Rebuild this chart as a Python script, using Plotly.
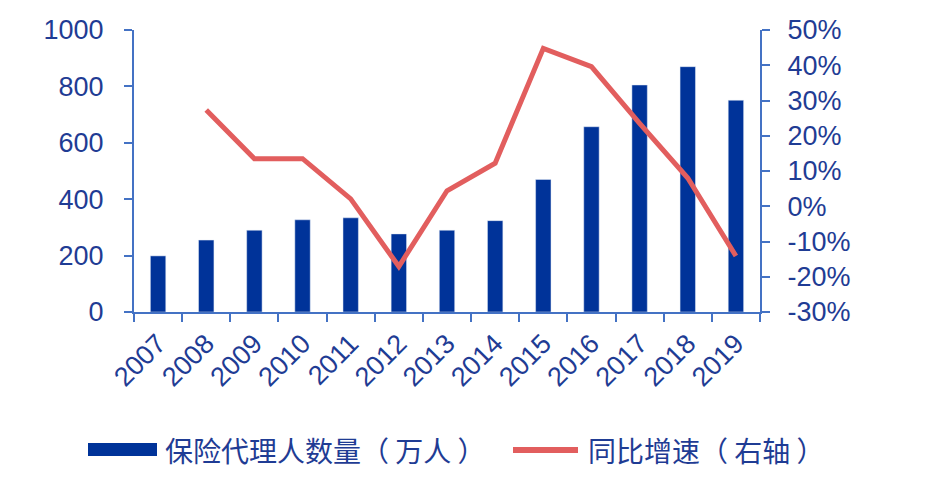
import plotly.graph_objects as go

years = ["2007", "2008", "2009", "2010", "2011", "2012", "2013",
         "2014", "2015", "2016", "2017", "2018", "2019"]
agents = [199, 255, 290, 327, 334, 277, 290, 324, 470, 657, 805, 870, 751]
growth_years = years[1:]
growth = [0.273, 0.135, 0.135, 0.021, -0.171, 0.044, 0.122,
          0.448, 0.396, 0.235, 0.08, -0.141]

pct_ticks = [-0.3, -0.2, -0.1, 0.0, 0.1, 0.2, 0.3, 0.4, 0.5]
pct_labels = ["-30%", "-20%", "-10%", "0%", "10%", "20%", "30%", "40%", "50%"]

bar_name = "保险代理人数量（ 万人 ）"
line_name = "同比增速（ 右轴 ）"

BLUE = "#003399"
RED = "#E25E5E"
AXIS = "#4472C4"
TXT = "#1F3C94"
FONT = "Liberation Sans, Arial, Noto Sans CJK SC"

fig = go.Figure()
fig.add_trace(go.Bar(x=years, y=agents, name=bar_name, marker_color=BLUE,
                     width=0.32, yaxis="y", showlegend=False))
fig.add_trace(go.Scatter(x=growth_years, y=growth, name=line_name, mode="lines",
                         line=dict(color=RED, width=5), yaxis="y2",
                         showlegend=False))

L, R, T, B = 134, 168, 30, 188
W, H = 928, 500
pw, ph = W - L - R, H - T - B


def px(x):
    return (x - L) / pw


def py(y):
    return (H - B - y) / ph


fig.update_layout(
    width=W, height=H,
    margin=dict(l=L, r=R, t=T, b=B),
    paper_bgcolor="white", plot_bgcolor="white",
    font=dict(family=FONT, color=TXT, size=27),
    xaxis=dict(
        type="category", showline=True, linecolor=AXIS, linewidth=2,
        ticks="outside", tickcolor=AXIS, tickwidth=2, ticklen=8,
        tickson="boundaries", tickangle=-45, showgrid=False,
        tickfont=dict(size=27, color=TXT), range=[-0.5, 12.5],
        ticklabelstandoff=3,
    ),
    yaxis=dict(
        range=[0, 1000], dtick=200, showline=True, linecolor=AXIS, linewidth=2,
        ticks="outside", tickcolor=AXIS, tickwidth=2, ticklen=8,
        showgrid=False, zeroline=False, tickfont=dict(size=27, color=TXT),
        ticklabelstandoff=15,
    ),
    yaxis2=dict(
        range=[-0.3, 0.5], tickmode="array", tickvals=pct_ticks,
        ticktext=pct_labels, overlaying="y",
        side="right", showline=True, linecolor=AXIS, linewidth=2,
        ticks="outside", tickcolor=AXIS, tickwidth=2, ticklen=8,
        showgrid=False, zeroline=False, tickfont=dict(size=27, color=TXT),
        ticklabelstandoff=12,
    ),
)

# legend drawn at bottom
fig.add_shape(type="rect", xref="paper", yref="paper",
              x0=px(88), x1=px(157), y0=py(456), y1=py(443),
              fillcolor=BLUE, line=dict(width=0))
fig.add_shape(type="line", xref="paper", yref="paper",
              x0=px(513), x1=px(578), y0=py(450), y1=py(450),
              line=dict(color=RED, width=6))
fig.add_annotation(text=bar_name, xref="paper", yref="paper",
                   x=px(163), y=py(450), xanchor="left", yanchor="middle",
                   showarrow=False, font=dict(size=28, color=TXT,
                                              family="Noto Sans CJK SC"))
fig.add_annotation(text=line_name, xref="paper", yref="paper",
                   x=px(586), y=py(450), xanchor="left", yanchor="middle",
                   showarrow=False, font=dict(size=28, color=TXT,
                                              family="Noto Sans CJK SC"))

fig.write_html("out.html")
